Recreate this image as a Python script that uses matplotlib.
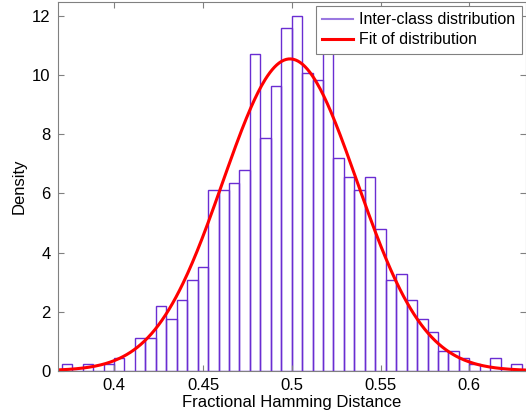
import numpy as np
import matplotlib
matplotlib.use("Agg")
import matplotlib.pyplot as plt
from matplotlib.lines import Line2D

plt.rcParams['font.family'] = ['Liberation Sans', 'DejaVu Sans']

# Histogram (density), 44 equal bins
bin_first_edge = 0.3704
bin_last_edge = 0.6295
density = [0.22, 0.0, 0.22, 0.0, 0.22, 0.44, 0.0, 1.09, 1.09, 2.19,
           1.75, 2.40, 3.06, 3.50, 6.12, 6.12, 6.34, 6.78, 10.71, 7.87,
           9.62, 11.59, 12.02, 10.06, 9.84, 10.90, 7.21, 6.56, 6.12, 6.56,
           4.81, 3.06, 3.28, 2.40, 1.75, 1.31, 0.66, 0.66, 0.44, 0.22,
           0.0, 0.44, 0.0, 0.22]

# Normal fit parameters
fit_mu = 0.499
fit_sigma = 0.0378

x_ticks = [0.4, 0.45, 0.5, 0.55, 0.6]
x_tick_labels = ['0.4', '0.45', '0.5', '0.55', '0.6']
y_ticks = [0, 2, 4, 6, 8, 10, 12]
y_tick_labels = ['0', '2', '4', '6', '8', '10', '12']

W, H = 526, 415
fig = plt.figure(figsize=(W / 100, H / 100), dpi=100)
ax = fig.add_axes([57.5 / W, (H - 370.7) / H, (525.5 - 57.5) / W, (370.7 - 2) / H])

edges = np.linspace(bin_first_edge, bin_last_edge, len(density) + 1)
widths = np.diff(edges)
ax.bar(edges[:-1], density, width=widths, align='edge', fill=False,
       edgecolor='#6a2dd2', linewidth=1.0)

xlim = (0.368, 0.6317)
xs = np.linspace(xlim[0], xlim[1], 400)
pdf = np.exp(-0.5 * ((xs - fit_mu) / fit_sigma) ** 2) / (fit_sigma * np.sqrt(2 * np.pi))
ax.plot(xs, pdf, color='#ff0000', linewidth=2.2)

ax.set_xlim(*xlim)
ax.set_ylim(0, 12.48)
ax.set_xticks(x_ticks)
ax.set_xticklabels(x_tick_labels)
ax.set_yticks(y_ticks)
ax.set_yticklabels(y_tick_labels)
ax.tick_params(direction='in', length=4, width=0.8, color='#808080',
               top=True, right=True, labelsize=12, labelcolor='black', pad=5)
for s in ax.spines.values():
    s.set_color('#808080')
    s.set_linewidth(0.8)

ax.set_xlabel('Fractional Hamming Distance', fontsize=12, labelpad=2)
ax.set_ylabel('Density', fontsize=12, labelpad=4)

handles = [Line2D([], [], color='#9a78e0', lw=1.5), Line2D([], [], color='#ff0000', lw=2.2)]
leg = ax.legend(handles, ['Inter-class distribution', 'Fit of distribution'],
                loc='upper right', prop={'size': 11.5}, frameon=True, fancybox=False,
                framealpha=1, edgecolor='#808080', borderpad=0.4,
                handlelength=1.9, handletextpad=0.4, labelspacing=0.3,
                borderaxespad=0.25)
leg.get_frame().set_linewidth(0.8)

fig.savefig('out.png', dpi=100)
